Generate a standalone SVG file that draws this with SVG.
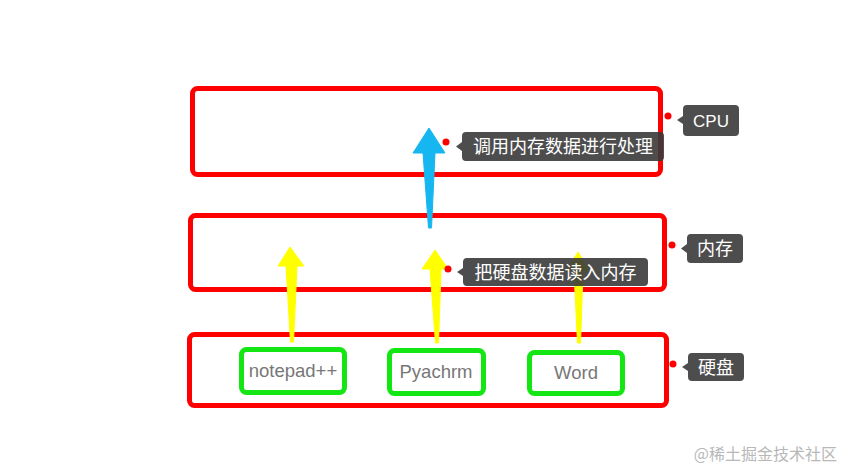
<svg xmlns="http://www.w3.org/2000/svg" width="846" height="469" viewBox="0 0 846 469">
<defs>
<style>
.layer{fill:none;stroke:#ff0000;stroke-width:5}
.app{fill:#fff;stroke:#14e614;stroke-width:5}
.apptxt{font-family:"Liberation Sans","Noto Sans",sans-serif;font-size:18.5px;fill:#777;text-anchor:middle}
.tag{fill:#3a3a3a;fill-opacity:0.9}
.tagtxt{font-family:"Noto Sans CJK SC","Liberation Sans",sans-serif;font-size:18px;fill:#fff;text-anchor:middle}
.dot{fill:#ff0000}
.yarrow{fill:#ffff00;stroke:#ffff00;stroke-width:1;stroke-linejoin:round}
.barrow{fill:#16b6f0;stroke:#16b6f0;stroke-width:1;stroke-linejoin:round}
</style>
</defs>
<rect width="846" height="469" fill="#fff"/>
<g id="cpu"><rect class="layer" x="192.5" y="88.5" width="468" height="86" rx="5"/></g>
<g id="memory"><rect class="layer" x="190.5" y="215.5" width="474" height="74" rx="5"/></g>
<g id="disk"><rect class="layer" x="189.5" y="334.5" width="477" height="71" rx="5"/></g>
<g id="notepad"><rect class="app" x="241.5" y="349.5" width="103" height="43" rx="5"/><text class="apptxt" x="293" y="377">notepad++</text></g>
<g id="pycharm"><rect class="app" x="389.5" y="350.5" width="94" height="43" rx="5"/><text class="apptxt" x="436" y="378">Pyachrm</text></g>
<g id="word"><rect class="app" x="529.5" y="352.5" width="93" height="41" rx="5"/><text class="apptxt" x="576" y="379">Word</text></g>
<g id="connectors">
<path class="yarrow" d="M290,247 L304,266 L297,266 L293.5,342 L290.5,342 L286,266 L278,266 Z"/>
<path class="yarrow" d="M435,250 L448,269 L441,269 L438.5,343 L435.5,343 L430,269 L422,269 Z"/>
<path class="yarrow" d="M578,252 L590,271 L583,271 L580.5,343 L577.5,343 L574,271 L566,271 Z"/>
<path class="barrow" d="M429,128 L445,153 L435,153 L431.5,228 L428.5,228 L423,153 L413,153 Z"/>
</g>
<g id="label-process">
<circle class="dot" cx="446" cy="142" r="3.5"/>
<path class="tag" d="M466,132 H660 a4,4 0 0 1 4,4 V157 a4,4 0 0 1 -4,4 H466 a4,4 0 0 1 -4,-4 V151 L456,146.5 L462,142 V136 a4,4 0 0 1 4,-4 Z"/>
<text class="tagtxt" x="563" y="153">调用内存数据进行处理</text>
</g>
<g id="label-read">
<circle class="dot" cx="448" cy="269" r="3.5"/>
<path class="tag" d="M467,258 H644 a4,4 0 0 1 4,4 V282 a4,4 0 0 1 -4,4 H467 a4,4 0 0 1 -4,-4 V276 L457,272 L463,268 V262 a4,4 0 0 1 4,-4 Z"/>
<text class="tagtxt" x="555.5" y="279">把硬盘数据读入内存</text>
</g>
<g id="label-cpu">
<circle class="dot" cx="668" cy="116" r="3.5"/>
<path class="tag" d="M687,105 H735 a4,4 0 0 1 4,4 V132 a4,4 0 0 1 -4,4 H687 a4,4 0 0 1 -4,-4 V124 L677,120 L683,116 V109 a4,4 0 0 1 4,-4 Z"/>
<text class="tagtxt" x="711" y="127" style="font-family:'Liberation Sans',sans-serif;font-size:17px">CPU</text>
</g>
<g id="label-memory">
<circle class="dot" cx="672" cy="245" r="3.5"/>
<path class="tag" d="M691,234 H739 a4,4 0 0 1 4,4 V259 a4,4 0 0 1 -4,4 H691 a4,4 0 0 1 -4,-4 V253 L681,248.5 L687,244 V238 a4,4 0 0 1 4,-4 Z"/>
<text class="tagtxt" x="715" y="255">内存</text>
</g>
<g id="label-disk">
<circle class="dot" cx="673" cy="364" r="3.5"/>
<path class="tag" d="M692,353 H740 a4,4 0 0 1 4,4 V377 a4,4 0 0 1 -4,4 H692 a4,4 0 0 1 -4,-4 V371 L682,367 L688,363 V357 a4,4 0 0 1 4,-4 Z"/>
<text class="tagtxt" x="716" y="374">硬盘</text>
</g>
<text x="837" y="460" style="font-family:'Noto Sans CJK SC','Liberation Sans',sans-serif;font-size:16px;fill:#b8b8b8;text-anchor:end">@稀土掘金技术社区</text>
</svg>
